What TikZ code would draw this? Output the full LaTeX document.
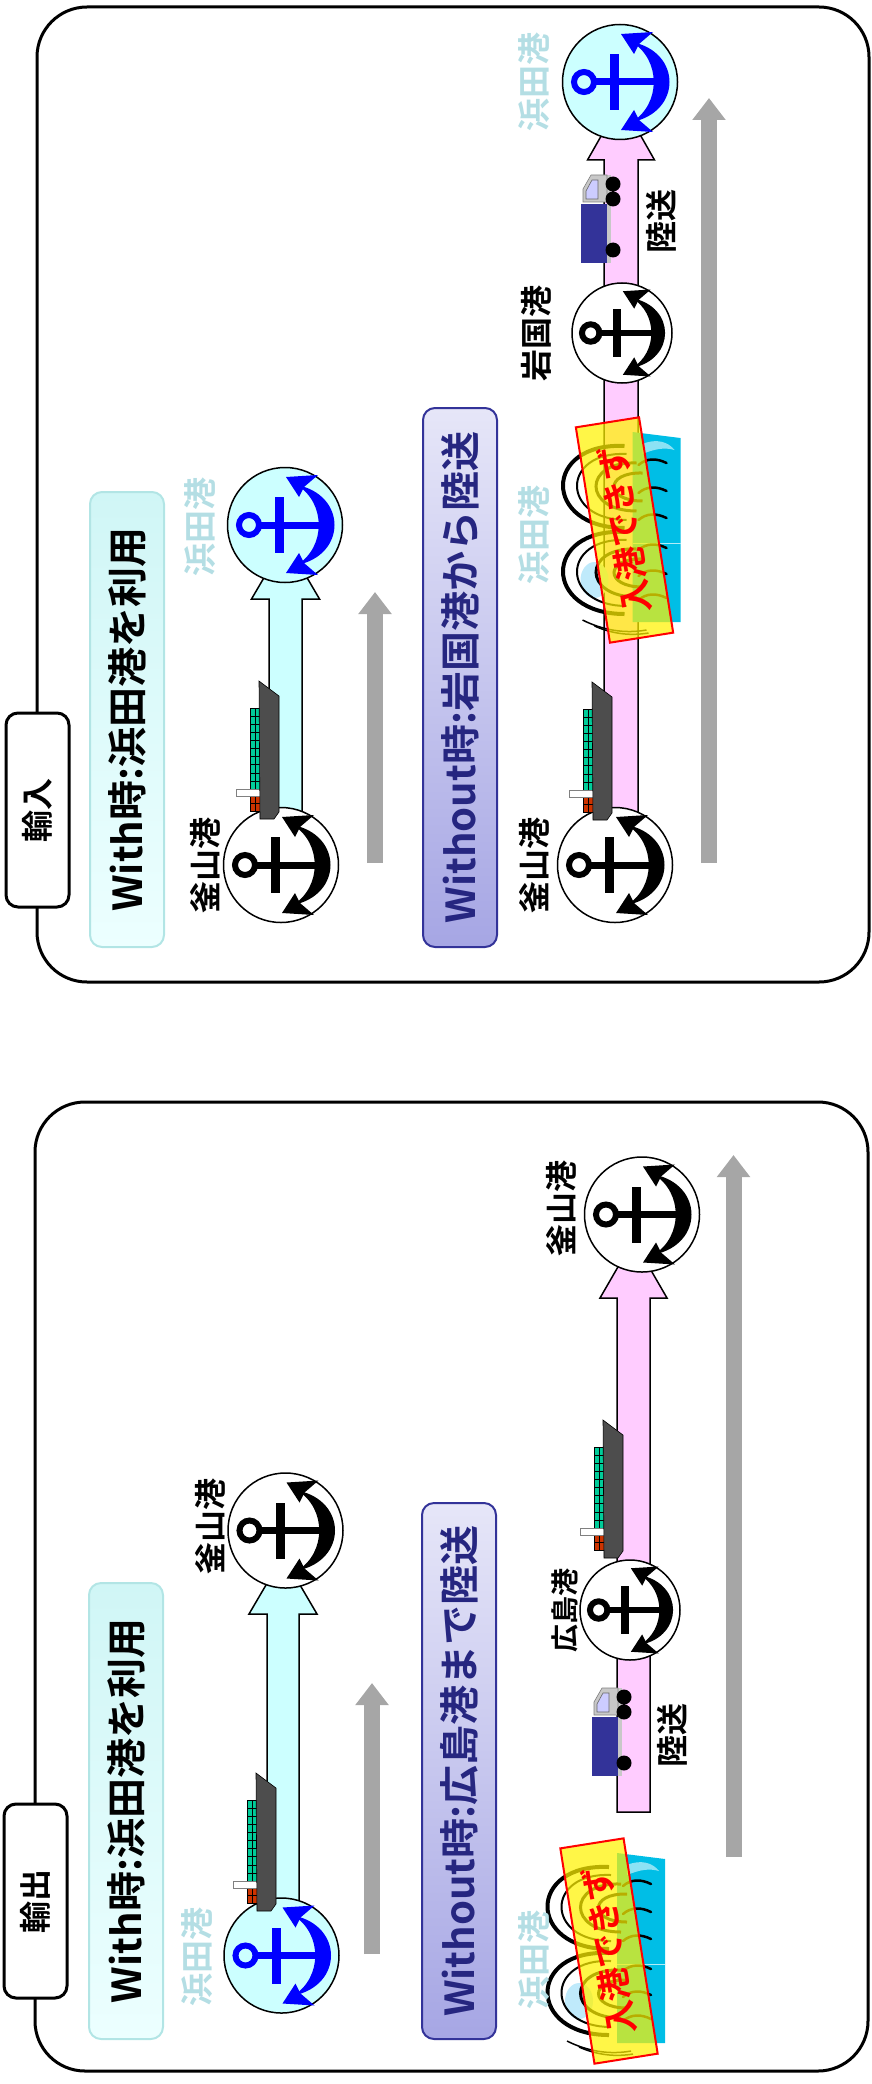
\documentclass[tikz,border=0pt]{standalone}
\usepackage{fontspec}
\setmainfont{Noto Sans CJK JP}[BoldFont={Noto Sans CJK JP Bold}]
\usetikzlibrary{arrows.meta}

\definecolor{hamadacyan}{RGB}{204,255,255}
\definecolor{routepink}{RGB}{255,204,255}
\definecolor{labellight}{RGB}{180,222,228}
\definecolor{arrowgray}{RGB}{166,166,166}
\definecolor{hullgray}{RGB}{77,77,77}
\definecolor{boxgreen}{RGB}{0,204,153}
\definecolor{boxred}{RGB}{204,51,0}
\definecolor{truckblue}{RGB}{51,51,153}
\definecolor{cabgray}{RGB}{200,200,200}
\definecolor{windowlav}{RGB}{204,204,255}
\definecolor{wavecyan}{RGB}{0,190,230}
\definecolor{withedge}{RGB}{178,229,229}
\definecolor{withleft}{RGB}{208,246,246}
\definecolor{withright}{RGB}{236,255,255}
\definecolor{woedge}{RGB}{51,51,153}
\definecolor{woleft}{RGB}{230,230,248}
\definecolor{woright}{RGB}{166,166,228}
\definecolor{wotext}{RGB}{38,38,128}
\definecolor{anchorblue}{RGB}{0,0,255}

\tikzset{
  panel/.style={draw=black, line width=3pt, rounded corners=50pt},
  tagbox/.style={rotate=90, draw=black, line width=3pt, fill=white,
    rounded corners=12pt, minimum width=194pt, minimum height=63pt,
    inner sep=0pt, font=\bfseries\fontsize{32}{32}\selectfont},
  withbox/.style={rotate=90, draw=withedge, line width=2pt,
    top color=withleft, bottom color=withright, rounded corners=12pt,
    minimum height=74pt, inner sep=0pt,
    font=\bfseries\fontsize{40}{40}\selectfont},
  wobox/.style={rotate=90, draw=woedge, line width=2pt,
    top color=woleft, bottom color=woright, rounded corners=12pt,
    minimum height=74pt, inner sep=0pt, text=wotext,
    font=\bfseries\fontsize{40}{40}\selectfont},
  port/.style={circle, draw=black, line width=1.5pt, fill=white,
    minimum size=115pt, inner sep=0pt},
  hamadaport/.style={port, fill=hamadacyan},
  smallport/.style={port, minimum size=100pt},
  portlabel/.style={rotate=90, inner sep=0pt,
    font=\bfseries\fontsize{32}{32}\selectfont},
  smalllabel/.style={portlabel, font=\bfseries\fontsize{28}{28}\selectfont},
  hamadalabel/.style={portlabel, text=labellight,
    font=\bfseries\fontsize{33}{33}\selectfont},
  blockarrow/.style={draw=black, line width=1.5pt, line join=miter},
  grayarrow/.style={draw=arrowgray, line width=16pt,
    -{Triangle[width=32pt,length=22pt]}},
  nogo/.style={draw=red, line width=2pt, fill=yellow, fill opacity=0.72,
    text opacity=1, text=red, minimum width=218pt, minimum height=64pt,
    inner sep=0pt, font=\bfseries\fontsize{34}{34}\selectfont},
  % anchor symbol, drawn in the current colour, radius about 57
  pics/anchoricon/.style={code={
    \draw[line width=6pt] (-36,0) circle[radius=10pt];
    \fill (-27,-3.5) rectangle (44,3.5);
    \fill (-10,-28) rectangle (-1,28);
    \fill (12,-40) .. controls (62,-30) and (62,30) .. (12,40)
          .. controls (41,22) and (41,-22) .. (12,-40) -- cycle;
    \fill (1,-48) -- (14,-28) -- (19,-38) -- (33,-50) -- cycle;
    \fill (1,48) -- (14,28) -- (19,38) -- (33,50) -- cycle;
  }},
  % container ship seen from above, bow up; origin at the bow corner
  pics/boxship/.style={code={
    \fill[boxgreen] (-9,27) rectangle (1,108);
    \foreach \k in {0,...,10} \draw[line width=0.6pt] (-9,27+8.1*\k) -- (1,27+8.1*\k);
    \draw[line width=0.6pt] (-9,27) -- (-9,108) (-4,27) -- (-4,108) (1,27) -- (1,108);
    \fill[boxred] (-9,115) rectangle (1,130);
    \draw[line width=0.6pt] (-9,115) rectangle (1,130) (-4,115) -- (-4,130) (-9,122.5) -- (1,122.5);
    \filldraw[fill=white, draw=gray, line width=0.8pt] (-23,108) rectangle (1,115);
    \filldraw[fill=hullgray, draw=black, line width=0.6pt]
      (0,0) -- (20,15) -- (20,131) -- (15,138) -- (1,138) -- cycle;
  }},
  % lorry, cab up; origin at the top left of the cargo box
  pics/lorry/.style={code={
    \fill[cabgray] (26,-29) rectangle (30,59);
    \filldraw[fill=cabgray, draw=gray, line width=0.6pt]
      (2,-15) -- (10,-29) -- (26,-29) -- (26,-2) -- (2,-2) -- cycle;
    \filldraw[fill=windowlav, draw=gray!80!black, line width=0.6pt]
      (5,-13) -- (11,-24) -- (17,-24) -- (17,-5) -- (5,-5) -- cycle;
    \fill[truckblue] (0,0) rectangle (26,59);
    \fill[black] (32,-20) circle[radius=7.5pt] (32,-5) circle[radius=7.5pt]
      (32,46) circle[radius=7.5pt];
  }},
  % rough sea behind the warning sign
  pics/surf/.style={code={
    \fill[wavecyan] (8,-98) -- (56,-92) -- (56,92) -- (8,92) -- cycle;
    \fill[white!55!wavecyan] (18,-86) .. controls (32,-92) and (44,-88) .. (50,-80)
      .. controls (40,-83) and (30,-81) .. (18,-76) -- cycle;
    \draw[white!70!wavecyan, line width=1pt] (8,13) -- (56,13);
    \fill[cyan!25] (-30,50) ellipse[x radius=14pt, y radius=18pt];
    \foreach \dy in {-43,43} {
      \draw[line width=4pt] (0,\dy-41) .. controls (-82,\dy-45) and (-82,\dy+41) .. (0,\dy+41);
      \draw[line width=2pt] (2,\dy-33) .. controls (-64,\dy-36) and (-64,\dy+33) .. (2,\dy+33);
      \draw[line width=3pt] (12,\dy-24) .. controls (-42,\dy-26) and (-42,\dy+24) .. (12,\dy+24);
      \draw[line width=3pt] (18,\dy-14) .. controls (-20,\dy-15) and (-20,\dy+14) .. (18,\dy+14);
    }
    \draw[line width=1.5pt] (-42,90) .. controls (-22,100) and (0,104) .. (22,100);
    \draw[line width=1.5pt] (-30,96) .. controls (-12,104) and (6,106) .. (24,103);
    \foreach \yy in {-69,-41,-14,16,42,66}
      \draw[line width=2.5pt, line cap=round]
        (14,\yy+4) .. controls (22,\yy-3) and (32,\yy-3) .. (42,\yy+2);
  }},
}

\begin{document}
\begin{tikzpicture}[x=1pt,y=-1pt]
\useasboundingbox (0,0) rectangle (871,2084);

% ================= import panel =================
\draw[panel] (37,7) rectangle (869,982);
\node[tagbox] (tagIn) at (37.5,810) {輸入};
\node[withbox, minimum width=455pt] (withIn) at (127,719.5) {With時:浜田港を利用};
\node[wobox, minimum width=539pt] (woIn) at (460,677.5) {Without時:岩国港から陸送};

% ports
\coordinate (busanWI) at (281,865);
\coordinate (hamadaWI) at (285,525);
\coordinate (busanWoI) at (615,865);
\coordinate (iwakuni) at (622,333);
\coordinate (hamadaWoI) at (620,82);

% direction arrows
\draw[grayarrow] (375,863) coordinate (gWIs) -- (375,592) coordinate (gWIe);
\draw[grayarrow] (709,863) coordinate (gWoIs) -- (709,98) coordinate (gWoIe);

% routes
\filldraw[blockarrow, fill=hamadacyan] (269,865) -- (269,599) -- (251.5,599)
  -- (285.5,541) -- (319.5,599) -- (302,599) -- (302,865) -- cycle;
\filldraw[blockarrow, fill=routepink] (604,865) -- (604,160) -- (587.5,160)
  -- (621,101) -- (654.5,160) -- (638,160) -- (638,865) -- cycle;

% blocked at Hamada
\pic (surfIn) at (624.5,530) {surf};
\node[nogo, rotate=99] (nogoIn) at (624.5,530) {入港できず};

% port circles
\node[port] (bsnWI) at (busanWI) {};
\pic[black] at (bsnWI) {anchoricon};
\node[hamadaport] (hmdWI) at (hamadaWI) {};
\pic[anchorblue] at (hmdWI) {anchoricon};
\node[port] (bsnWoI) at (busanWoI) {};
\pic[black] at (bsnWoI) {anchoricon};
\node[smallport] (iwk) at (iwakuni) {};
\pic[black, scale=0.87] at (iwk) {anchoricon};
\node[hamadaport] (hmdWoI) at (hamadaWoI) {};
\pic[anchorblue] at (hmdWoI) {anchoricon};

% vessels and lorry
\pic (shipWI) at (259,681) {boxship};
\pic (shipWoI) at (592,682) {boxship};
\pic (lorryIn) at (581,204) {lorry};

% labels
\node[portlabel] (lbsnWI) at (205,865) {釜山港};
\node[hamadalabel] (lhmdWI) at (200,527) {浜田港};
\node[portlabel] (lbsnWoI) at (534,865) {釜山港};
\node[hamadalabel] (lhmdMid) at (534,535) {浜田港};
\node[portlabel] (liwk) at (536,333) {岩国港};
\node[hamadalabel] (lhmdTop) at (534,82) {浜田港};
\node[portlabel] (landIn) at (661,222) {陸送};

% ================= export panel =================
\draw[panel] (35,1102) rectangle (868,2071);
\node[tagbox] (tagOut) at (35.5,1901) {輸出};
\node[withbox, minimum width=456pt] (withOut) at (126,1811) {With時:浜田港を利用};
\node[wobox, minimum width=536pt] (woOut) at (459,1771) {Without時:広島港まで陸送};

\coordinate (busanWO) at (285.5,1530.5);
\coordinate (hamadaWO) at (281.5,1955.5);
\coordinate (busanWoO) at (642,1214.5);
\coordinate (hiroshima) at (630,1610);

\draw[grayarrow] (372,1954) coordinate (gWOs) -- (372,1683) coordinate (gWOe);
\draw[grayarrow] (733.5,1857) coordinate (gWoOs) -- (733.5,1155) coordinate (gWoOe);

\filldraw[blockarrow, fill=hamadacyan] (267,1955) -- (267,1614) -- (249,1614)
  -- (283,1556) -- (317,1614) -- (299,1614) -- (299,1955) -- cycle;
\filldraw[blockarrow, fill=routepink] (617,1812) -- (617,1298) -- (600,1298)
  -- (633.5,1240) -- (667,1298) -- (650,1298) -- (650,1812) -- cycle;

\pic (surfOut) at (609,1951) {surf};
\node[nogo, rotate=99] (nogoOut) at (609,1951) {入港できず};

\node[port] (bsnWO) at (busanWO) {};
\pic[black] at (bsnWO) {anchoricon};
\node[hamadaport] (hmdWO) at (hamadaWO) {};
\pic[anchorblue] at (hmdWO) {anchoricon};
\node[port] (bsnWoO) at (busanWoO) {};
\pic[black] at (bsnWoO) {anchoricon};
\node[smallport] (hrs) at (hiroshima) {};
\pic[black, scale=0.87] at (hrs) {anchoricon};

\pic (shipWO) at (256,1773) {boxship};
\pic (shipWoO) at (603,1420) {boxship};
\pic (lorryOut) at (592,1717) {lorry};

\node[portlabel] (lbsnWO) at (210,1526) {釜山港};
\node[hamadalabel] (lhmdWO) at (197,1957) {浜田港};
\node[portlabel] (lbsnWoO) at (561,1208) {釜山港};
\node[smalllabel] (lhrs) at (565,1610) {広島港};
\node[hamadalabel] (lhmdOut) at (534,1960) {浜田港};
\node[portlabel] (landOut) at (672,1735) {陸送};

\end{tikzpicture}
\end{document}
